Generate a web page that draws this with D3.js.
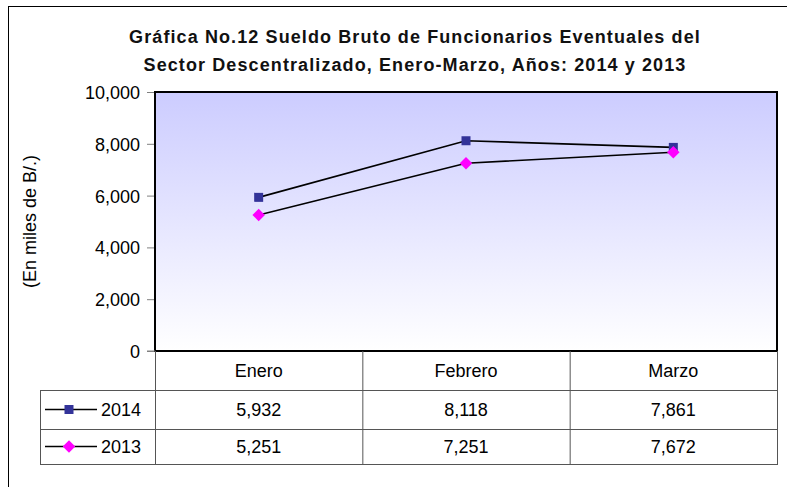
<!DOCTYPE html>
<html>
<head>
<meta charset="utf-8">
<script src="https://cdn.jsdelivr.net/npm/d3@7"></script>
<style>
  body { margin: 0; background: #fff; }
  svg { font-family: 'Liberation Sans', Arial, sans-serif; }
</style>
</head>
<body>
<div id="chart"></div>
<script>
// Data
const months = ['Enero', 'Febrero', 'Marzo'];
const years = ['2014', '2013'];
const sueldo2014 = [5932, 8118, 7861];
const sueldo2013 = [5251, 7251, 7672];
const yTicks = [0, 2000, 4000, 6000, 8000, 10000];

const series = [
    {name: years[0], values: sueldo2014, color: '#333399', rot: 0, size: 81},
    {name: years[1], values: sueldo2013, color: '#FF00FF', rot: 45, size: 78}
];

const svg = d3.select('#chart')
    .append('svg')
    .attr('width', 787)
    .attr('height', 487);

// outer frame (only left and top visible)
svg.append('rect')
    .attr('x', 8.5).attr('y', 6.5)
    .attr('width', 800).attr('height', 500)
    .attr('fill', 'none')
    .attr('stroke', '#000')
    .attr('stroke-width', 1);

const plot = {left: 155, right: 777, top: 92, bottom: 351};
const rowH = [39, 39, 35];
const fs = 18;

// title
const title = svg.append('text')
    .attr('text-anchor', 'middle')
    .attr('font-weight', 'bold')
    .attr('font-size', 18)
    .attr('letter-spacing', 1.1)
    .attr('fill', '#111');
title.append('tspan').attr('x', 415).attr('y', 43).text('Gráfica No.12 Sueldo Bruto de Funcionarios Eventuales del');
title.append('tspan').attr('x', 415).attr('y', 71).text('Sector Descentralizado, Enero-Marzo, Años: 2014 y 2013');

// gradient background
const grad = svg.append('defs').append('linearGradient')
    .attr('id', 'bg').attr('x1', 0).attr('y1', 0).attr('x2', 0).attr('y2', 1);
grad.append('stop').attr('offset', '0%').attr('stop-color', '#CCCCFF');
grad.append('stop').attr('offset', '100%').attr('stop-color', '#FFFFFF');

svg.append('rect')
    .attr('x', plot.left).attr('y', plot.top)
    .attr('width', plot.right - plot.left)
    .attr('height', plot.bottom - plot.top)
    .attr('fill', 'url(#bg)');

const x = d3.scaleBand().domain(months).range([plot.left, plot.right]);
const y = d3.scaleLinear().domain([0, 10000]).range([plot.bottom, plot.top]);

// y axis
const yAxis = svg.append('g')
    .attr('transform', `translate(${plot.left},0)`)
    .call(d3.axisLeft(y).tickValues(yTicks).tickSize(8).tickPadding(7).tickFormat(d3.format(',')));
yAxis.select('.domain').remove();
yAxis.selectAll('line').attr('stroke', '#808080');
yAxis.selectAll('text').attr('font-size', fs).attr('fill', '#000')
    .attr('dy', '0.36em')
    .attr('font-family', "'Liberation Sans', Arial, sans-serif");

svg.append('text')
    .attr('transform', `translate(36,${(plot.top + plot.bottom) / 2}) rotate(-90)`)
    .attr('text-anchor', 'middle')
    .attr('font-size', fs)
    .text('(En miles de B/.)');

// plot border
svg.append('rect')
    .attr('x', plot.left).attr('y', plot.top)
    .attr('width', plot.right - plot.left)
    .attr('height', plot.bottom - plot.top)
    .attr('fill', 'none')
    .attr('stroke', '#000')
    .attr('stroke-width', 2);

// lines + markers
const cx = m => x(m) + x.bandwidth() / 2;
const line = d3.line()
    .x((d, i) => cx(months[i]))
    .y(d => y(d));

series.forEach(s => {
    svg.append('path')
        .datum(s.values)
        .attr('d', line)
        .attr('fill', 'none')
        .attr('stroke', '#000')
        .attr('stroke-width', 1.6);
});
series.forEach(s => {
    svg.selectAll(null)
        .data(s.values)
        .enter().append('path')
        .attr('d', d3.symbol().type(d3.symbolSquare).size(s.size))
        .attr('transform', (d, i) => `translate(${cx(months[i])},${y(d)}) rotate(${s.rot})`)
        .attr('fill', s.color);
});

// data table
const table = svg.append('g');
const rowTop = [plot.bottom, plot.bottom + rowH[0], plot.bottom + rowH[0] + rowH[1]];
const tableBottom = rowTop[2] + rowH[2];
const legendLeft = 40;

// horizontal lines
[rowTop[1], rowTop[2], tableBottom].forEach(yy => {
    table.append('line')
        .attr('x1', legendLeft).attr('x2', plot.right + 1)
        .attr('y1', yy + 0.5).attr('y2', yy + 0.5)
        .attr('stroke', '#555');
});
// vertical lines
months.forEach(m => {
    table.append('line')
        .attr('x1', x(m) + 0.5).attr('x2', x(m) + 0.5)
        .attr('y1', plot.bottom).attr('y2', tableBottom)
        .attr('stroke', '#555');
});
table.append('line')
    .attr('x1', plot.right + 0.5).attr('x2', plot.right + 0.5)
    .attr('y1', plot.bottom).attr('y2', tableBottom + 0.5)
    .attr('stroke', '#555');
table.append('line')
    .attr('x1', legendLeft + 0.5).attr('x2', legendLeft + 0.5)
    .attr('y1', rowTop[1]).attr('y2', tableBottom + 0.5)
    .attr('stroke', '#555');
// tick stub below axis
table.append('line')
    .attr('x1', plot.left - 8).attr('x2', plot.left)
    .attr('y1', plot.bottom).attr('y2', plot.bottom)
    .attr('stroke', '#808080');

// header
table.selectAll('.hdr')
    .data(months)
    .enter().append('text')
    .attr('x', d => cx(d))
    .attr('y', rowTop[0] + rowH[0] / 2 + 6)
    .attr('text-anchor', 'middle')
    .attr('font-size', fs)
    .text(d => d);

// rows
series.forEach((s, r) => {
    const cy = rowTop[r + 1] + rowH[r + 1] / 2;
    table.selectAll(null)
        .data(s.values)
        .enter().append('text')
        .attr('x', (d, i) => cx(months[i]))
        .attr('y', cy + 6.5)
        .attr('text-anchor', 'middle')
        .attr('font-size', fs)
        .text(d => d3.format(',')(d));
    // legend key
    table.append('line')
        .attr('x1', legendLeft + 5).attr('x2', legendLeft + 57)
        .attr('y1', cy).attr('y2', cy)
        .attr('stroke', '#000').attr('stroke-width', 1.6);
    table.append('path')
        .attr('d', d3.symbol().type(d3.symbolSquare).size(s.size))
        .attr('transform', `translate(${legendLeft + 29},${cy}) rotate(${s.rot})`)
        .attr('fill', s.color);
    table.append('text')
        .attr('x', legendLeft + 61)
        .attr('y', cy + 6.5)
        .attr('font-size', fs)
        .text(s.name);
});
</script>
</body>
</html>
